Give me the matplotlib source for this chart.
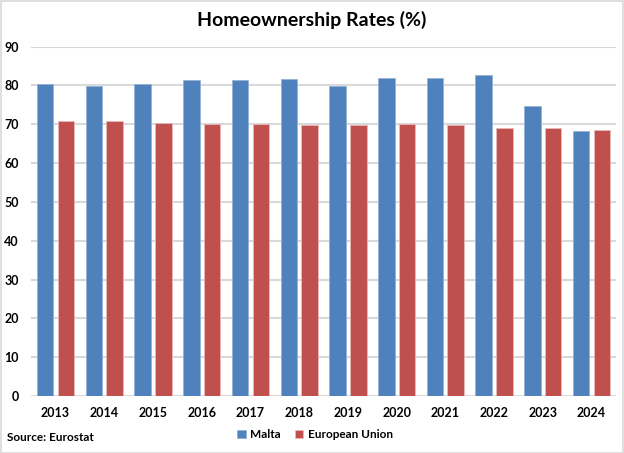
import numpy as np
import matplotlib
matplotlib.use('Agg')
import matplotlib.pyplot as plt
from matplotlib.patches import Rectangle

plt.rcParams['font.family'] = ['Lato', 'DejaVu Sans']

years = ['2013', '2014', '2015', '2016', '2017', '2018',
         '2019', '2020', '2021', '2022', '2023', '2024']
malta = [80.4, 79.8, 80.4, 81.5, 81.3, 81.7, 79.8, 81.9, 81.9, 82.6, 74.8, 68.2]
eu = [70.8, 70.8, 70.3, 70.1, 70.0, 69.9, 69.8, 70.0, 69.8, 69.1, 69.1, 68.4]

fig = plt.figure(figsize=(6.24, 4.53), dpi=100)
ax = fig.add_axes([0.05, 0.126, 0.937, 0.771])

x = np.arange(len(years))
w = 0.34
ax.bar(x - 0.213, malta, w, color='#4F81BD', edgecolor='#95B3D7', linewidth=0.6, label='Malta', zorder=3)
ax.bar(x + 0.213, eu, w, color='#C0504D', edgecolor='#E6B9B8', linewidth=0.6, label='European Union', zorder=3)

ax.set_xlim(-0.5, len(years) - 0.5)
ax.set_ylim(0, 90)
ax.set_yticks(range(0, 91, 10))
ax.set_xticks(x)
ax.set_xticklabels(years)
ax.tick_params(length=0, labelsize=9)
ax.tick_params(axis='x', pad=8)
ax.tick_params(axis='y', pad=9)
for lbl in ax.get_xticklabels() + ax.get_yticklabels():
    lbl.set_fontweight('bold')
ax.yaxis.grid(True, color='#D9D9D9', linewidth=1.5, zorder=0)
for s in ax.spines.values():
    s.set_visible(False)

fig.text(0.5, 0.955, 'Homeownership Rates (%)', ha='center', va='center',
         fontsize=14, fontweight='bold')
fig.text(0.012, 0.034, 'Source: Eurostat', ha='left', va='center',
         fontsize=8.5, fontweight='bold')
leg = fig.legend(loc='center', bbox_to_anchor=(0.505, 0.04), ncol=2, frameon=False,
                 fontsize=8.5, handlelength=0.7, handleheight=0.7, handletextpad=0.4,
                 columnspacing=1.2)
for t in leg.get_texts():
    t.set_fontweight('bold')

fig.patches.append(Rectangle((0.001, 0.001), 0.997, 0.997, transform=fig.transFigure,
                             fill=False, edgecolor='#D9D9D9', linewidth=1.2))

fig.savefig('out.png', dpi=100)
